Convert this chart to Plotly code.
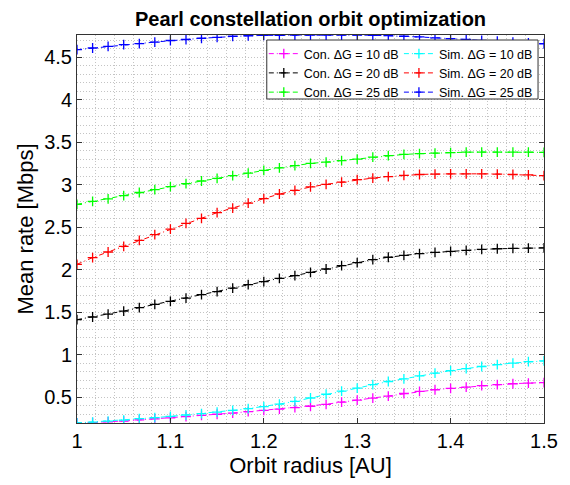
import plotly.graph_objects as go

# Orbit radius [AU] sample points
radius = [1.0000, 1.0167, 1.0333, 1.0500, 1.0667, 1.0833, 1.1000, 1.1167, 1.1333, 1.1500,
          1.1667, 1.1833, 1.2000, 1.2167, 1.2333, 1.2500, 1.2667, 1.2833, 1.3000, 1.3167,
          1.3333, 1.3500, 1.3667, 1.3833, 1.4000, 1.4167, 1.4333, 1.4500, 1.4667, 1.4833, 1.5000]

con10 = [0.198, 0.203, 0.212, 0.221, 0.234, 0.246, 0.259, 0.273, 0.287, 0.301, 0.315, 0.331,
         0.347, 0.362, 0.379, 0.395, 0.418, 0.443, 0.467, 0.491, 0.515, 0.545, 0.569, 0.589,
         0.606, 0.621, 0.637, 0.649, 0.660, 0.668, 0.673]
con20 = [1.414, 1.445, 1.480, 1.515, 1.555, 1.594, 1.629, 1.668, 1.708, 1.744, 1.786, 1.826,
         1.861, 1.900, 1.932, 1.971, 2.010, 2.050, 2.085, 2.120, 2.148, 2.170, 2.190, 2.205,
         2.218, 2.230, 2.240, 2.248, 2.253, 2.256, 2.258]
con25 = [2.771, 2.806, 2.836, 2.873, 2.910, 2.943, 2.980, 3.014, 3.045, 3.076, 3.108, 3.139,
         3.171, 3.200, 3.226, 3.252, 3.268, 3.285, 3.302, 3.325, 3.343, 3.358, 3.367, 3.374,
         3.380, 3.384, 3.386, 3.386, 3.385, 3.384, 3.382]
sim10 = [0.198, 0.209, 0.221, 0.233, 0.249, 0.261, 0.276, 0.292, 0.308, 0.327, 0.347, 0.367,
         0.391, 0.421, 0.453, 0.492, 0.536, 0.572, 0.609, 0.650, 0.686, 0.718, 0.753, 0.784,
         0.815, 0.838, 0.863, 0.885, 0.903, 0.919, 0.928]
sim20 = [2.065, 2.144, 2.210, 2.276, 2.347, 2.414, 2.480, 2.547, 2.606, 2.673, 2.727, 2.786,
         2.838, 2.892, 2.935, 2.975, 3.006, 3.033, 3.061, 3.080, 3.096, 3.112, 3.122, 3.127,
         3.130, 3.130, 3.130, 3.127, 3.122, 3.117, 3.108]
sim25 = [4.590, 4.610, 4.630, 4.650, 4.662, 4.680, 4.698, 4.710, 4.725, 4.736, 4.748, 4.754,
         4.758, 4.760, 4.762, 4.763, 4.763, 4.763, 4.762, 4.760, 4.755, 4.748, 4.740, 4.730,
         4.720, 4.710, 4.700, 4.690, 4.680, 4.670, 4.660]

names = ["Con. ΔG = 10 dB", "Con. ΔG = 20 dB", "Con. ΔG = 25 dB",
         "Sim. ΔG = 10 dB", "Sim. ΔG = 20 dB", "Sim. ΔG = 25 dB"]
colors = ["#ff00ff", "#000000", "#00ff00", "#00ffff", "#ff0000", "#0000ff"]
legends = ["legend", "legend", "legend", "legend2", "legend2", "legend2"]
series = [con10, con20, con25, sim10, sim20, sim25]

W, H = 570, 485
ML, MR, MT, MB = 77, 23, 35, 62
PW, PH = W - ML - MR, H - MT - MB

def px_x(p):
    return (p - ML) / PW

def px_y(p):
    return (H - MB - p) / PH

FONT = "Liberation Sans, Arial, Helvetica, sans-serif"

fig = go.Figure()
for nm, vals, col, lg in zip(names, series, colors, legends):
    fig.add_trace(go.Scatter(
        x=radius, y=vals, name=nm, mode="lines+markers", legend=lg,
        line=dict(color=col, width=1, dash="5px,3px,1px,3px"),
        marker=dict(symbol="cross-thin", size=7, color=col, line=dict(color=col, width=1.3)),
    ))

grid = dict(gridcolor="#c4c4c4", griddash="1px,2px", gridwidth=1)

axis_common = dict(
    showline=True, linecolor="#333333", linewidth=1, mirror="ticks",
    ticks="inside", ticklen=5, tickcolor="#333333", zeroline=False,
    showgrid=True, tickfont=dict(size=20, color="black", family=FONT), **grid,
)

fig.update_layout(
    width=W, height=H,
    margin=dict(l=ML, r=MR, t=MT, b=MB),
    plot_bgcolor="white", paper_bgcolor="white",
    font=dict(family=FONT, color="black"),
    title=dict(text="<b>Pearl constellation orbit optimization</b>",
               x=0.5, xref="paper", xanchor="center",
               y=1 - 19 / H, yref="container", yanchor="middle",
               font=dict(size=20, color="black", family=FONT)),
    xaxis=dict(range=[1, 1.5], dtick=0.1, tick0=1,
               minor=dict(dtick=0.02, showgrid=True, **grid),
               title=dict(text="Orbit radius [AU]", font=dict(size=22, color="black", family=FONT), standoff=6),
               **axis_common),
    yaxis=dict(range=[0.198, 4.763], dtick=0.5, tick0=0,
               minor=dict(dtick=0.1, showgrid=True, **grid),
               title=dict(text="Mean rate [Mbps]", font=dict(size=22, color="black", family=FONT), standoff=4),
               **axis_common),
    legend=dict(x=px_x(265), y=px_y(39), xanchor="left", yanchor="top",
                bgcolor="rgba(0,0,0,0)", borderwidth=0, tracegroupgap=0,
                font=dict(size=12.5, color="black", family=FONT)),
    legend2=dict(x=px_x(401), y=px_y(39), xanchor="left", yanchor="top",
                 bgcolor="rgba(0,0,0,0)", borderwidth=0, tracegroupgap=0,
                 font=dict(size=12.5, color="black", family=FONT)),
    shapes=[dict(type="rect", xref="paper", yref="paper",
                 x0=px_x(268), x1=px_x(541), y0=px_y(99), y1=px_y(40),
                 fillcolor="white", line=dict(color="#333333", width=1), layer="above")],
    showlegend=True,
)

fig.write_html("out.html")
